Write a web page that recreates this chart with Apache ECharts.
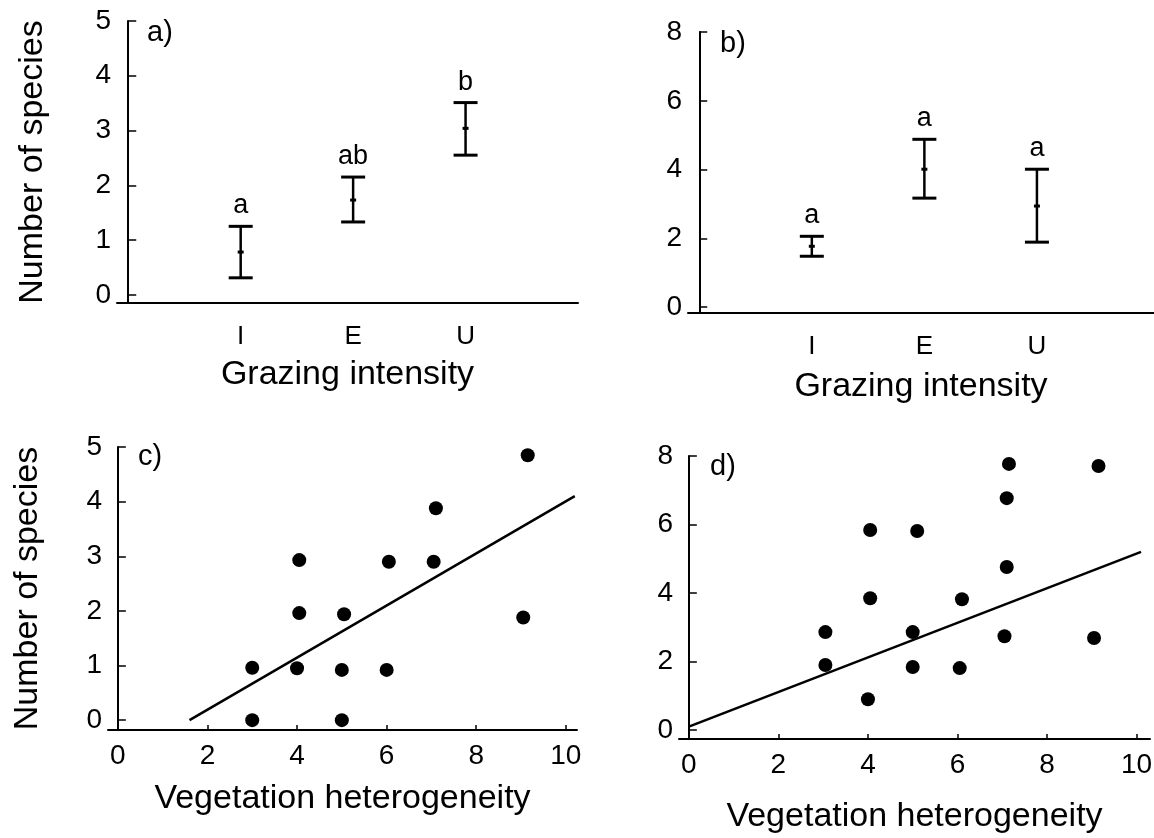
<!DOCTYPE html>
<html>
<head>
<meta charset="utf-8">
<script src="https://cdn.jsdelivr.net/npm/echarts@6/dist/echarts.min.js"></script>
<style>
html, body { margin: 0; padding: 0; background: #fff; }
#main { width: 1154px; height: 838px; }
</style>
</head>
<body>
<div id="main"></div>
<script>
// grazing panels (a, b)
var grazing = ['I', 'E', 'U'];
var meanA = [0.78, 1.73, 3.04];
var lowA = [0.31, 1.33, 2.55];
var highA = [1.25, 2.15, 3.51];
var lettersA = ['a', 'ab', 'b'];

var meanB = [1.77, 4.01, 2.94];
var lowB = [1.48, 3.17, 1.89];
var highB = [2.06, 4.88, 4.01];
var lettersB = ['a', 'a', 'a'];

// vegetation heterogeneity panels (c, d)
var hetC = [3, 3, 4, 4.05, 4.05, 5, 5, 5.05, 6, 6.05, 7.05, 7.1, 9.05, 9.15];
var sppC = [0, 0.96, 0.95, 1.96, 2.93, 0, 0.92, 1.94, 0.92, 2.9, 2.9, 3.88, 1.88, 4.85];
var fitC = [[1.6, 0], [10.2, 4.1]];

var hetD = [3.05, 3.05, 4.05, 4.05, 4, 5.1, 5, 5, 6.1, 6.05, 7.15, 7.1, 7.1, 7.05, 9.15, 9.05];
var sppD = [2.86, 1.9, 5.84, 3.85, 0.9, 5.81, 2.86, 1.84, 3.82, 1.81, 7.77, 6.77, 4.76, 2.74, 7.71, 2.69];
var fitD = [[0, 0.1], [10.1, 5.2]];

var ticks5 = [0, 1, 2, 3, 4, 5];
var ticks8 = [0, 2, 4, 6, 8];
var ticks10 = [0, 2, 4, 6, 8, 10];

var FONT = '"Liberation Sans", Arial, sans-serif';

var chart = echarts.init(document.getElementById('main'));

function yAxisOf(gi, min, max, ticks, name, gap) {
    return {
        type: 'value', gridIndex: gi, min: min, max: max,
        name: name || '', nameLocation: 'middle', nameGap: gap || 0, nameRotate: 90,
        nameTextStyle: { fontFamily: FONT, fontSize: 34, color: '#000' },
        axisLine: { show: true, lineStyle: { color: '#000', width: 2 } },
        axisTick: { show: true, inside: true, length: 8, customValues: ticks, lineStyle: { color: '#000', width: 1.5 } },
        axisLabel: { customValues: ticks, fontFamily: FONT, fontSize: 28, color: '#000', margin: 6 },
        splitLine: { show: false }
    };
}

function xGrazing(gi, max, gap) {
    return {
        type: 'value', gridIndex: gi, min: -0.1, max: max,
        name: 'Grazing intensity', nameLocation: 'middle', nameGap: gap,
        nameTextStyle: { fontFamily: FONT, fontSize: 34, color: '#000' },
        axisLine: { show: true, onZero: false, lineStyle: { color: '#000', width: 2 } },
        axisTick: { show: false },
        axisLabel: {
            customValues: [1, 2, 3], fontFamily: FONT, fontSize: 26, color: '#000', margin: 21,
            formatter: function (v) { return grazing[Math.round(v) - 1]; }
        },
        splitLine: { show: false }
    };
}

function xHet(gi, max, gap) {
    return {
        type: 'value', gridIndex: gi, min: -0.22, max: max,
        name: 'Vegetation heterogeneity', nameLocation: 'middle', nameGap: gap,
        nameTextStyle: { fontFamily: FONT, fontSize: 34, color: '#000' },
        axisLine: { show: true, onZero: false, lineStyle: { color: '#000', width: 2 } },
        axisTick: { show: true, inside: true, length: 5, customValues: ticks10, lineStyle: { color: '#000', width: 1.5 } },
        axisLabel: { customValues: ticks10, fontFamily: FONT, fontSize: 28, color: '#000', margin: 12 },
        splitLine: { show: false }
    };
}

function errorBars(letters) {
    return function (params, api) {
        var x = api.value(0);
        var mid = api.coord([x, api.value(1)]);
        var bot = api.coord([x, api.value(2)]);
        var top = api.coord([x, api.value(3)]);
        var half = 12;
        return {
            type: 'group',
            children: [
                { type: 'line', shape: { x1: top[0], y1: top[1], x2: bot[0], y2: bot[1] }, style: { stroke: '#000', lineWidth: 2.5 } },
                { type: 'line', shape: { x1: top[0] - half, y1: top[1], x2: top[0] + half, y2: top[1] }, style: { stroke: '#000', lineWidth: 3 } },
                { type: 'line', shape: { x1: bot[0] - half, y1: bot[1], x2: bot[0] + half, y2: bot[1] }, style: { stroke: '#000', lineWidth: 3 } },
                { type: 'line', shape: { x1: mid[0] - 3, y1: mid[1], x2: mid[0] + 3, y2: mid[1] }, style: { stroke: '#000', lineWidth: 3 } },
                {
                    type: 'text', x: top[0], y: top[1] - 7,
                    style: { text: letters[params.dataIndex], fontFamily: FONT, fontSize: 27, fill: '#000', textAlign: 'center', textVerticalAlign: 'bottom' }
                }
            ]
        };
    };
}

function barData(mean, low, high) {
    return grazing.map(function (g, i) { return [i + 1, mean[i], low[i], high[i]]; });
}

function zip(xs, ys) {
    return xs.map(function (x, i) { return [x, ys[i]]; });
}

function panelLabel(txt, left, top) {
    return { type: 'text', left: left, top: top, style: { text: txt, fontFamily: FONT, fontSize: 29, fill: '#000' } };
}

var option = {
    backgroundColor: '#fff',
    animation: false,
    grid: [
        { left: 117, top: 21, width: 461, height: 282, outerBoundsMode: 'none' },
        { left: 688, top: 32, width: 466, height: 281, outerBoundsMode: 'none' },
        { left: 108, top: 447, width: 469, height: 283, outerBoundsMode: 'none' },
        { left: 679, top: 456, width: 471, height: 283, outerBoundsMode: 'none' }
    ],
    xAxis: [
        xGrazing(0, 4, 55),
        xGrazing(1, 4.04, 57),
        xHet(2, 10.25, 52),
        xHet(3, 10.3, 61)
    ],
    yAxis: [
        yAxisOf(0, -0.15, 5, ticks5, 'Number of species', 67),
        yAxisOf(1, -0.17, 8, ticks8),
        yAxisOf(2, -0.18, 5, ticks5, 'Number of species', 63),
        yAxisOf(3, -0.26, 8, ticks8)
    ],
    graphic: [
        panelLabel('a)', 147, 18),
        panelLabel('b)', 720, 29),
        panelLabel('c)', 138, 442),
        panelLabel('d)', 710, 452)
    ],
    series: [
        {
            type: 'custom', xAxisIndex: 0, yAxisIndex: 0,
            renderItem: errorBars(lettersA),
            encode: { x: 0, y: [1, 2, 3] },
            data: barData(meanA, lowA, highA)
        },
        {
            type: 'custom', xAxisIndex: 1, yAxisIndex: 1,
            renderItem: errorBars(lettersB),
            encode: { x: 0, y: [1, 2, 3] },
            data: barData(meanB, lowB, highB)
        },
        {
            type: 'scatter', xAxisIndex: 2, yAxisIndex: 2,
            symbolSize: 14, itemStyle: { color: '#000', opacity: 1 },
            data: zip(hetC, sppC)
        },
        {
            type: 'line', xAxisIndex: 2, yAxisIndex: 2,
            symbol: 'none', lineStyle: { color: '#000', width: 2.5 },
            data: fitC
        },
        {
            type: 'scatter', xAxisIndex: 3, yAxisIndex: 3,
            symbolSize: 14, itemStyle: { color: '#000', opacity: 1 },
            data: zip(hetD, sppD)
        },
        {
            type: 'line', xAxisIndex: 3, yAxisIndex: 3,
            symbol: 'none', lineStyle: { color: '#000', width: 2.5 },
            data: fitD
        }
    ]
};

chart.setOption(option);
</script>
</body>
</html>
